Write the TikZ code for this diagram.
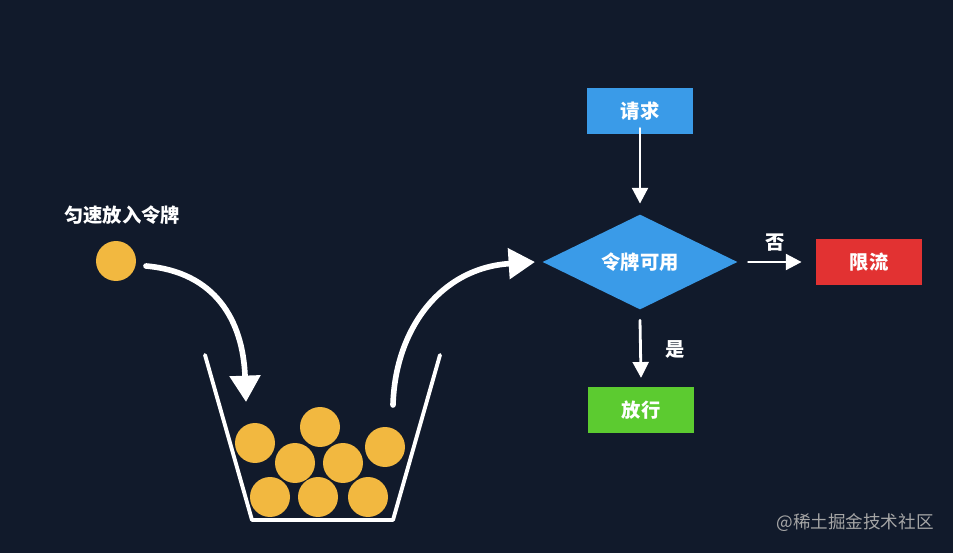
\documentclass[tikz,border=0pt]{standalone}
\usepackage{fontspec}
\setmainfont{Noto Sans CJK SC}
\usepackage{tikz}
\usetikzlibrary{arrows.meta,shapes.geometric}
\definecolor{bgnavy}{HTML}{111A2B}
\definecolor{tokorange}{HTML}{F2B840}
\definecolor{boxblue}{HTML}{3A9BE8}
\definecolor{boxgreen}{HTML}{5CCB30}
\definecolor{boxred}{HTML}{E23232}

\tikzset{
  lbl/.style={text=white,font=\fontsize{11}{13}\selectfont\bfseries},
  box/.style={lbl,minimum width=2.12cm,minimum height=0.92cm,inner sep=0pt},
  token/.style={fill=tokorange,circle,minimum size=0.8cm,inner sep=0pt},
  flow/.style={draw=white,line width=1.6pt,-{Triangle[length=9pt,width=9pt]}},
  bigflow/.style={draw=white,line width=3.2pt,-{Triangle[length=15pt,width=17pt]}}
}

\begin{document}
\begin{tikzpicture}[x=0.02cm,y=-0.02cm,line cap=round,line join=round]
  \fill[bgnavy] (0,0) rectangle (953,553);
  \useasboundingbox (0,0) rectangle (953,553);
  % token source
  \node[lbl] (rate) at (122,215) {匀速放入令牌};
  \node[token] (src) at (116,261) {};
  \coordinate (drop) at (246,402);
  \draw[bigflow] (146,266) .. controls (215,272) and (243,320) .. (drop);
  % bucket
  \draw[white,line width=2.2pt] (205,355) -- (252,520) -- (393,520) -- (440,355);
  \foreach \px/\py [count=\i] in {320/427,255/443,385/447,295/463,343/463,270/497,318/497,368/497}
    \node[token] (b\i) at (\px,\py) {};
  \coordinate (lift) at (535,262);
  \draw[bigflow] (393,405) .. controls (395,330) and (440,268) .. (lift);
  % flow chart
  \node[box,fill=boxblue] (req) at (640,111) {请求};
  \node[diamond,aspect=2.05,fill=boxblue,lbl,minimum width=3.9cm,minimum height=1.9cm,inner sep=0pt] (chk) at (640,262) {令牌可用};
  \node[box,fill=boxgreen] (pass) at (641,410) {放行};
  \node[box,fill=boxred] (limit) at (869,262) {限流};
  \draw[flow] (req.south) ++(0,-6) -- ([yshift=6pt]chk.north);
  \draw[flow] ([yshift=-6pt]chk.south) -- node[lbl,right=10pt] {是} ([yshift=5pt]pass.north);
  \draw[flow] ([xshift=6pt]chk.east) -- node[lbl,above=2pt] {否} ([xshift=-8pt]limit.west);
  % watermark
  \node[text=gray!70,font=\fontsize{10}{12}\selectfont] (mark) at (855,523) {@稀土掘金技术社区};
\end{tikzpicture}
\end{document}
